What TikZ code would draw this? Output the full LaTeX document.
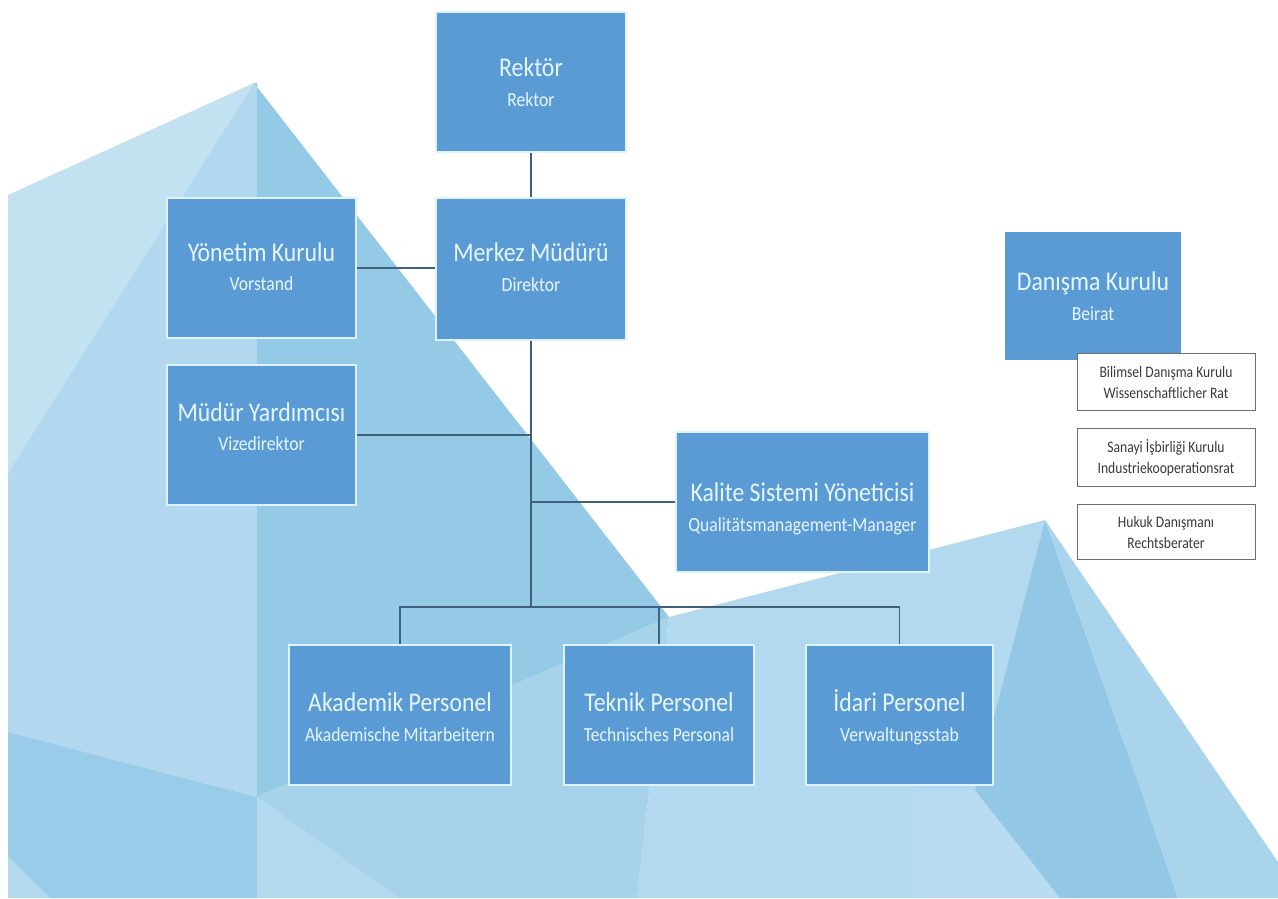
\documentclass[tikz,border=0pt]{standalone}
\usepackage{fontspec}
\setmainfont{Carlito}
\newfontfamily\boxfont[FakeStretch=0.88]{Carlito}
\newfontfamily\smallfont[FakeStretch=0.85]{Carlito}
\definecolor{boxblue}{HTML}{5B9BD5}
\definecolor{boxedge}{HTML}{DDF3FF}
\definecolor{boxtext}{HTML}{E6F6FF}
\definecolor{subedge}{HTML}{6E6E6E}
\definecolor{smalltext}{HTML}{3A3A3A}
\definecolor{linkcol}{HTML}{40607C}
\definecolor{bgA}{HTML}{C2E1F1}
\definecolor{bgB}{HTML}{B1D8EE}
\definecolor{bgC}{HTML}{95CAE7}
\definecolor{bgD}{HTML}{98CCE8}
\definecolor{bgE}{HTML}{A6D2EA}
\definecolor{bgF}{HTML}{B3D9EE}
\definecolor{bgG}{HTML}{92C8E6}
\definecolor{bgH}{HTML}{A9D4EC}
\definecolor{bgI}{HTML}{B9DCF0}
\begin{document}
\begin{tikzpicture}[x=1pt,y=-1pt,
  orgbox/.style={draw=boxedge, line width=1.2pt, fill=boxblue, inner sep=0pt},
  subbox/.style={draw=subedge, line width=1pt, fill=white, inner sep=0pt, minimum width=178pt},
  title/.style={font=\boxfont\fontsize{27}{30}\selectfont, text=boxtext, anchor=base, inner sep=0pt},
  subtitle/.style={font=\boxfont\fontsize{20}{22}\selectfont, text=boxtext, anchor=base, inner sep=0pt},
  small/.style={font=\smallfont\fontsize{16}{18}\selectfont, text=smalltext, anchor=base, inner sep=0pt},
  link/.style={draw=linkcol, line width=1.6pt}]
\useasboundingbox (0,0) rectangle (1278,898);
\fill[white] (0,0) rectangle (1278,898);
% background facets
\fill[bgA] (8,195) -- (254,83) -- (8,473) -- cycle;
\fill[bgB] (8,473) -- (254,83) -- (257,83) -- (257,797) -- (8,732) -- cycle;
\fill[bgC] (254,83) -- (669,617) -- (257,797) -- (257,83) -- cycle;
\fill[bgD] (8,732) -- (257,797) -- (257,898) -- (50,898) -- (8,857) -- cycle;
\fill[bgF] (8,857) -- (50,898) -- (8,898) -- cycle;
\fill[bgF] (257,797) -- (399,898) -- (257,898) -- cycle;
\fill[bgE] (257,797) -- (669,617) -- (637,898) -- (399,898) -- cycle;
\fill[bgF] (669,617) -- (1045,520) -- (975,790) -- (1060,898) -- (637,898) -- cycle;
\fill[bgI] (913,790) -- (975,790) -- (1060,898) -- (913,898) -- cycle;
\fill[bgG] (1045,520) -- (975,790) -- (1060,898) -- (1178,898) -- (1141,790) -- cycle;
\fill[bgH] (1045,520) -- (1141,790) -- (1178,898) -- (1278,898) -- (1278,862) -- cycle;
% main boxes
\node[orgbox, minimum width=190pt, minimum height=140pt] (rektor) at (531,82) {};
\node[orgbox, minimum width=189pt, minimum height=140pt] (yonetim) at (261.5,268) {};
\node[orgbox, minimum width=190pt, minimum height=142pt] (merkez) at (531,269) {};
\node[orgbox, minimum width=189pt, minimum height=140pt] (mudur) at (261.5,435) {};
\node[orgbox, minimum width=253pt, minimum height=140pt] (kalite) at (802.5,502) {};
\node[orgbox, draw=white, minimum width=178pt, minimum height=130pt] (danisma) at (1093,296) {};
\node[orgbox, minimum width=222pt, minimum height=140pt] (akademik) at (400,715) {};
\node[orgbox, minimum width=190pt, minimum height=140pt] (teknik) at (659,715) {};
\node[orgbox, minimum width=187pt, minimum height=140pt] (idari) at (899.5,715) {};
% small boxes
\node[subbox, minimum height=57pt] (bilimsel) at (1166,381.5) {};
\node[subbox, minimum height=58pt] (sanayi) at (1166,457) {};
\node[subbox, minimum height=55pt] (hukuk) at (1166,531.5) {};
% connectors
\coordinate (bus) at (531,607);
\draw[link] (rektor.south) -- (merkez.north);
\draw[link] (yonetim.east) -- (yonetim.east -| merkez.west);
\draw[link] (merkez.south) -- (bus);
\draw[link] (mudur.east) -- (mudur.east -| merkez.south);
\draw[link] (kalite.west) -- (kalite.west -| merkez.south);
\draw[link] (akademik.north) |- (bus) -| (idari.north);
\draw[link] (teknik.north) -- (teknik.north |- bus);
% texts
\node[title] (rektorT) at (531,76) {Rektör};
\node[subtitle] (rektorS) at (531,106) {Rektor};
\node[title] (yonetimT) at (261.5,261) {Yönetim Kurulu};
\node[subtitle] (yonetimS) at (261.5,290) {Vorstand};
\node[title] (merkezT) at (531,261) {Merkez Müdürü};
\node[subtitle] (merkezS) at (531,291) {Direktor};
\node[title] (mudurT) at (261.5,421) {Müdür Yardımcısı};
\node[subtitle] (mudurS) at (261.5,450) {Vizedirektor};
\node[title] (kaliteT) at (802.5,501) {Kalite Sistemi Yöneticisi};
\node[subtitle] (kaliteS) at (802.5,531) {Qualitätsmanagement-Manager};
\node[title] (danismaT) at (1093,290) {Danışma Kurulu};
\node[subtitle] (danismaS) at (1093,320) {Beirat};
\node[title] (akademikT) at (400,711) {Akademik Personel};
\node[subtitle] (akademikS) at (400,741) {Akademische Mitarbeitern};
\node[title] (teknikT) at (659,711) {Teknik Personel};
\node[subtitle] (teknikS) at (659,741) {Technisches Personal};
\node[title] (idariT) at (899.5,711) {İdari Personel};
\node[subtitle] (idariS) at (899.5,741) {Verwaltungsstab};
\node[small] (bilimselT) at (1166,377) {Bilimsel Danışma Kurulu};
\node[small] (bilimselS) at (1166,398) {Wissenschaftlicher Rat};
\node[small] (sanayiT) at (1166,452) {Sanayi İşbirliği Kurulu};
\node[small] (sanayiS) at (1166,473) {Industriekooperationsrat};
\node[small] (hukukT) at (1166,527) {Hukuk Danışmanı};
\node[small] (hukukS) at (1166,548) {Rechtsberater};
\end{tikzpicture}
\end{document}
